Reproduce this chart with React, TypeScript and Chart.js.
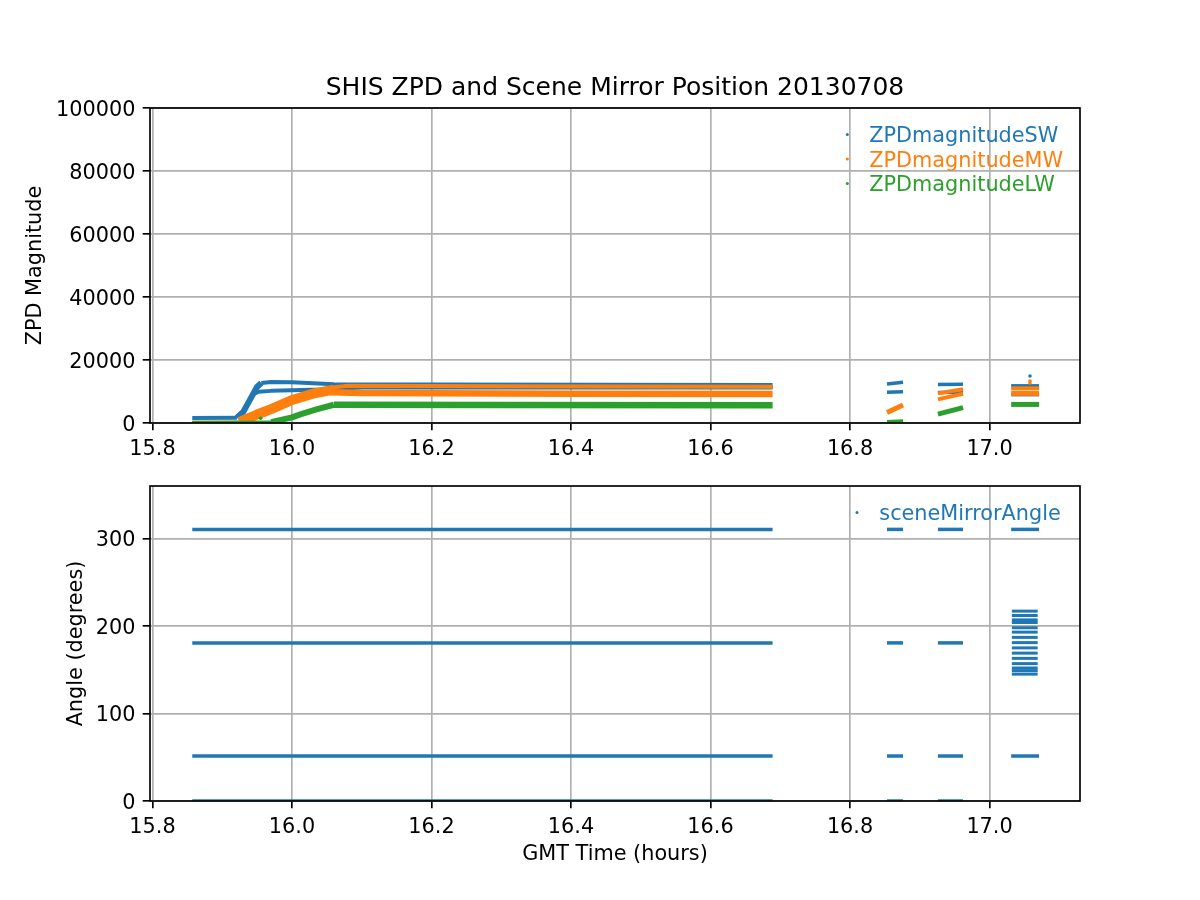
import React, { useEffect, useRef } from 'react';
import { Chart, registerables } from 'chart.js';

Chart.register(...registerables);
Chart.defaults.font.family = '"DejaVu Sans", sans-serif';
Chart.defaults.color = '#000';

// ---------- colours ----------
const C0 = '#1f77b4';
const C1 = '#ff7f0e';
const C2 = '#2ca02c';

// ---------- text ----------
const figureTitle = 'SHIS ZPD and Scene Mirror Position 20130708';
const topYLabel = 'ZPD Magnitude';
const bottomYLabel = 'Angle (degrees)';
const bottomXLabel = 'GMT Time (hours)';
const topLegend = ['ZPDmagnitudeSW', 'ZPDmagnitudeMW', 'ZPDmagnitudeLW'];
const bottomLegend = ['sceneMirrorAngle'];

// ---------- axes ----------
const timeMin = 15.7964;
const timeMax = 17.1297;
const timeStep = 0.2;
const zpdMin = 0;
const zpdMax = 100000;
const zpdStep = 20000;
const angleMin = 0;
const angleMax = 360;
const angleStep = 100;

// ---------- top panel data: [GMT hours, ZPD magnitude] ----------
const swBase = [[15.857, 1600], [15.921, 1650]];
const swRise = [[15.921, 1650], [15.930, 3500], [15.940, 7500], [15.950, 11500], [15.956, 12700]];
const swUpper = [[15.956, 12700], [15.970, 13000], [16.000, 12900], [16.030, 12600], [16.060, 12300], [16.200, 12200], [16.689, 12100]];
const swLower = [[15.942, 9000], [15.952, 9900], [15.970, 10200], [16.000, 10400], [16.040, 10600], [16.060, 10800], [16.100, 11300], [16.689, 11300]];
const swGap1a = [[16.853, 12400], [16.876, 12900]];
const swGap1b = [[16.853, 9800], [16.876, 9900]];
const swGap2a = [[16.926, 12200], [16.962, 12300]];
const swGap2b = [[16.926, 9700], [16.962, 9800]];
const swGap3a = [[17.031, 11800], [17.071, 11800]];
const swGap3b = [[17.031, 9000], [17.071, 9000]];
const swSpike = [[17.058, 14900]];

const mwBase = [[15.857, 300], [15.925, 350]];
const mwRise = [[15.925, 350], [15.950, 2700], [15.970, 4400], [16.000, 7300], [16.030, 9300], [16.060, 10600]];
const mwUpper = [[16.055, 11200], [16.080, 11800], [16.300, 11700], [16.689, 11500]];
const mwLower = [[16.055, 9800], [16.100, 9500], [16.400, 9300], [16.689, 9200]];
const mwGap1 = [[16.853, 3300], [16.876, 5700]];
const mwGap2a = [[16.926, 9400], [16.962, 10700]];
const mwGap2b = [[16.926, 7500], [16.962, 9300]];
const mwGap3a = [[17.031, 11000], [17.071, 11000]];
const mwGap3b = [[17.031, 9400], [17.071, 9400]];
const mwSpike = [[17.058, 13300], [17.058, 12700]];

const lwBase = [[15.857, 150], [15.970, 300]];
const lwRise = [[15.970, 300], [16.000, 1800], [16.013, 2800], [16.035, 4300], [16.060, 5800]];
const lwFlat = [[16.060, 5800], [16.300, 5700], [16.689, 5600]];
const lwStray = [[15.955, 1500]];
const lwGap1 = [[16.853, 450], [16.876, 700]];
const lwGap2 = [[16.926, 2800], [16.962, 4900]];
const lwGap3 = [[17.031, 5900], [17.071, 5900]];

// ---------- bottom panel data ----------
const segmentStart = [15.857, 16.853, 16.926, 17.031];
const segmentEnd = [16.689, 16.876, 16.962, 17.071];
const segmentAngles = [
  [310.4, 180.7, 51.4, 0],
  [310.4, 180.7, 51.4, 0],
  [310.4, 180.7, 51.4, 0],
  [310.4, 51.4],
];
const scanStart = 17.032;
const scanEnd = 17.069;
const scanAngles = [217, 212, 207, 204, 198, 193, 187, 181, 175, 169, 163, 157, 152, 149, 145];

// ---------- dataset tables (style kept apart from values) ----------
type Band = { pts: number[][]; color: string; width: number; order: number };
const topBands: Band[] = [
  { pts: swBase, color: C0, width: 4, order: 3 },
  { pts: swRise, color: C0, width: 6, order: 3 },
  { pts: swUpper, color: C0, width: 4, order: 3 },
  { pts: swLower, color: C0, width: 4, order: 3 },
  { pts: swGap1a, color: C0, width: 3.5, order: 3 },
  { pts: swGap1b, color: C0, width: 3.5, order: 3 },
  { pts: swGap2a, color: C0, width: 3.5, order: 3 },
  { pts: swGap2b, color: C0, width: 3.5, order: 3 },
  { pts: swGap3a, color: C0, width: 3.5, order: 3 },
  { pts: swGap3b, color: C0, width: 3.5, order: 3 },
  { pts: mwBase, color: C1, width: 3, order: 2 },
  { pts: mwRise, color: C1, width: 10, order: 2 },
  { pts: mwUpper, color: C1, width: 4, order: 2 },
  { pts: mwLower, color: C1, width: 6.5, order: 2 },
  { pts: mwGap1, color: C1, width: 5, order: 2 },
  { pts: mwGap2a, color: C1, width: 4, order: 2 },
  { pts: mwGap2b, color: C1, width: 4, order: 2 },
  { pts: mwGap3a, color: C1, width: 4, order: 2 },
  { pts: mwGap3b, color: C1, width: 5, order: 2 },
  { pts: lwBase, color: C2, width: 3, order: 1 },
  { pts: lwRise, color: C2, width: 6, order: 1 },
  { pts: lwFlat, color: C2, width: 6.5, order: 1 },
  { pts: lwGap1, color: C2, width: 3, order: 1 },
  { pts: lwGap2, color: C2, width: 5, order: 1 },
  { pts: lwGap3, color: C2, width: 5, order: 1 },
];
const topDots = [
  { pts: swSpike, color: C0, order: 3 },
  { pts: mwSpike, color: C1, order: 2 },
  { pts: lwStray, color: C2, order: 1 },
];

function bandDataset(pts: number[][], color: string, width: number, order: number) {
  return {
    data: pts.map(([x, y]) => ({ x, y })),
    borderColor: color,
    backgroundColor: color,
    borderWidth: width,
    pointRadius: 0,
    pointHoverRadius: 0,
    fill: false,
    tension: 0,
    order,
    borderCapStyle: 'butt',
    borderJoinStyle: 'round',
  };
}

function dotDataset(pts: number[][], color: string, order: number) {
  return {
    data: pts.map(([x, y]) => ({ x, y })),
    showLine: false,
    pointRadius: 1.8,
    pointBorderWidth: 0,
    pointBackgroundColor: color,
    backgroundColor: color,
    borderColor: color,
    order,
  };
}

function bottomDatasets() {
  const out: any[] = [];
  segmentAngles.forEach((levels, i) => {
    levels.forEach((a) => {
      out.push(bandDataset([[segmentStart[i], a], [segmentEnd[i], a]], C0, 3.5, 1));
    });
  });
  scanAngles.forEach((a) => {
    out.push(bandDataset([[scanStart, a], [scanEnd, a]], C0, 3, 1));
  });
  return out;
}

// ---------- plugin: full spine box + matplotlib-like frameless legend ----------
function frameLegendPlugin(items: { text: string; color: string }[], textDx: number, markerDx: number, rowTop: number) {
  return {
    id: 'frameLegend',
    afterDatasetsDraw(chart: any) {
      const { ctx, chartArea: a } = chart;
      ctx.save();
      ctx.strokeStyle = '#000';
      ctx.lineWidth = 1.67;
      ctx.strokeRect(a.left, a.top, a.right - a.left, a.bottom - a.top);
      ctx.font = '20.8px "DejaVu Sans", sans-serif';
      ctx.textBaseline = 'alphabetic';
      ctx.textAlign = 'left';
      items.forEach((it, i) => {
        const cy = a.top + rowTop + i * 24.5;
        ctx.fillStyle = it.color;
        ctx.beginPath();
        ctx.arc(a.right - markerDx, cy, 1.5, 0, Math.PI * 2);
        ctx.fill();
        ctx.fillText(it.text, a.right - textDx, cy + 7.6);
      });
      ctx.restore();
    },
  };
}

function xAxis(height: number, title?: string) {
  return {
    type: 'linear',
    position: 'bottom',
    min: timeMin,
    max: timeMax,
    bounds: 'ticks',
    border: { display: false },
    grid: { color: '#b0b0b0', lineWidth: 1.67, tickColor: '#000', tickWidth: 1.67, tickLength: 7.3, drawTicks: true },
    ticks: {
      stepSize: timeStep,
      includeBounds: false,
      autoSkip: false,
      maxRotation: 0,
      minRotation: 0,
      padding: 7.3,
      color: '#000',
      font: { size: 20.8 },
      callback: (v: any) => Number(v).toFixed(1),
    },
    title: title
      ? { display: true, text: title, color: '#000', font: { size: 20.8, lineHeight: 1.2 }, padding: { top: 0, bottom: 33.1 } }
      : { display: false },
    afterFit: (s: any) => {
      s.height = height;
    },
  };
}

function yAxis(min: number, max: number, step: number, title: string, titlePad: number) {
  return {
    type: 'linear',
    position: 'left',
    min,
    max,
    bounds: 'ticks',
    border: { display: false },
    grid: { color: '#b0b0b0', lineWidth: 1.67, tickColor: '#000', tickWidth: 1.67, tickLength: 7.3, drawTicks: true },
    ticks: {
      stepSize: step,
      includeBounds: false,
      autoSkip: false,
      padding: 7.3,
      labelOffset: 2.5,
      color: '#000',
      font: { size: 20.8 },
      callback: (v: any) => String(v),
    },
    title: { display: true, text: title, color: '#000', font: { size: 20.8, lineHeight: 1.2 }, padding: { top: titlePad, bottom: 0 } },
    afterFit: (s: any) => {
      s.width = 150;
    },
  };
}

export default function App() {
  const topRef = useRef<HTMLCanvasElement>(null);
  const botRef = useRef<HTMLCanvasElement>(null);

  useEffect(() => {
    const topDatasets = [
      ...topBands.map((b) => bandDataset(b.pts, b.color, b.width, b.order)),
      ...topDots.map((d) => dotDataset(d.pts, d.color, d.order)),
    ];
    const topChart = new Chart(topRef.current as HTMLCanvasElement, {
      type: 'line',
      data: { datasets: topDatasets as any },
      options: {
        animation: false,
        responsive: false,
        devicePixelRatio: 1,
        events: [],
        layout: { padding: { left: 0, right: 120, top: 0, bottom: 0 } },
        plugins: {
          legend: { display: false },
          tooltip: { enabled: false },
          title: {
            display: true,
            text: figureTitle,
            fullSize: false,
            color: '#000',
            font: { size: 25, weight: 'normal', lineHeight: 1.2 },
            padding: { top: 73.7, bottom: 4.3 },
          },
        },
        scales: {
          x: xAxis(39) as any,
          y: yAxis(zpdMin, zpdMax, zpdStep, topYLabel, 23.5) as any,
        },
      },
      plugins: [
        frameLegendPlugin(
          [
            { text: topLegend[0], color: C0 },
            { text: topLegend[1], color: C1 },
            { text: topLegend[2], color: C2 },
          ],
          210.7,
          232.7,
          26.5
        ),
      ],
    });

    const botChart = new Chart(botRef.current as HTMLCanvasElement, {
      type: 'line',
      data: { datasets: bottomDatasets() as any },
      options: {
        animation: false,
        responsive: false,
        devicePixelRatio: 1,
        events: [],
        layout: { padding: { left: 0, right: 120, top: 24, bottom: 0 } },
        plugins: {
          legend: { display: false },
          tooltip: { enabled: false },
          title: { display: false },
        },
        scales: {
          x: xAxis(99, bottomXLabel) as any,
          y: yAxis(angleMin, angleMax, angleStep, bottomYLabel, 63.9) as any,
        },
      },
      plugins: [frameLegendPlugin([{ text: bottomLegend[0], color: C0 }], 200.7, 223, 26.4)],
    });

    return () => {
      topChart.destroy();
      botChart.destroy();
    };
  }, []);

  return (
    <div style={{ position: 'absolute', left: 0, top: 0, width: 1200, height: 900, background: '#fff', overflow: 'hidden' }}>
      <canvas ref={topRef} width={1200} height={462} style={{ position: 'absolute', left: 0, top: 0, width: 1200, height: 462, display: 'block' }} />
      <canvas ref={botRef} width={1200} height={438} style={{ position: 'absolute', left: 0, top: 462, width: 1200, height: 438, display: 'block' }} />
    </div>
  );
}
